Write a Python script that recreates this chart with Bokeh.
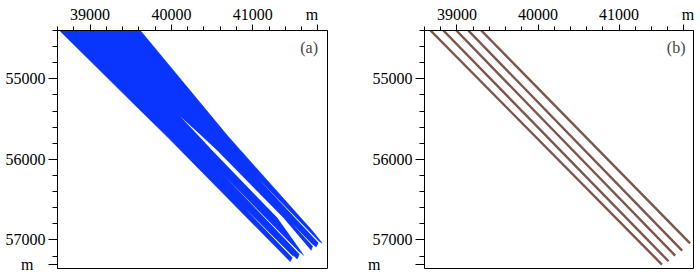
from bokeh.plotting import figure
from bokeh.layouts import row
from bokeh.models import Range1d, FixedTicker, Label
from bokeh.embed import file_html
from bokeh.resources import INLINE

NB = "\u00a0"

# ---- data (metres) ----
x_major = [39000, 40000, 41000]
x_minor = [38600, 38800, 39200, 39400, 39600, 39800, 40200, 40400, 40600, 40800,
           41200, 41400, 41600, 41800]
y_major = [55000, 56000, 57000]
y_minor = [54400, 54600, 54800, 55200, 55400, 55600, 55800, 56200, 56400, 56600,
           56800, 57200]
x_unit_pos = 41800   # "m" unit label along the top axis
y_unit_pos = 57300   # "m" unit label along the left axis

# panel (a): outer outline of the swept area
area_x = [38625, 39618, 40698, 41729, 41852, 41815, 41778, 41741, 41717,
          41631, 41582, 41545, 41502, 41459, 39946, 39557]
area_y = [54400, 54400, 55717, 56884, 57039, 57021, 57089, 57058, 57132,
          57195, 57157, 57238, 57195, 57269, 55717, 55332]
# main open gap between the left and right groups
gap_x = [40109, 40342, 40502, 41299, 41631, 41643, 41729, 41717, 41373, 40563, 40379]
gap_y = [55468, 55717, 55890, 56723, 57195, 57281, 57281, 57132, 56723, 55890, 55717]
# thin separations between the fingers
sep_x = [[40637, 41672, 41697], [40907, 41545, 41570],
         [41066, 41872, 41897], [41480, 41853, 41878]]
sep_y = [[56188, 57281, 57281], [56611, 57281, 57281],
         [56238, 57108, 57108], [56793, 57207, 57207]]

# panel (b): five trajectories
traj_x = [[38674, 41529],
          [38833, 41610],
          [38993, 41692],
          [39140, 41778],
          [39300, 41876]]
traj_y = [[54400, 57306],
          [54400, 57265],
          [54400, 57195],
          [54400, 57132],
          [54400, 57042]]

X_RANGE = (38600, 41918)
Y_RANGE = (57355, 54400)

FONT = "Liberation Serif"
FS = "16px"
BLUE = "#0a34ff"
BROWN = "#7d554b"


def make_fig(width, left, right, panel_label, lab_x, xm_text, ym_text):
    p = figure(width=width, height=272, x_range=Range1d(*X_RANGE), y_range=Range1d(*Y_RANGE),
               x_axis_location="above", output_backend="svg", toolbar_location=None,
               min_border_left=left, min_border_right=right, min_border_top=30,
               min_border_bottom=4)
    p.xgrid.visible = False
    p.ygrid.visible = False
    p.outline_line_color = "black"
    p.outline_line_width = 1
    p.background_fill_color = "white"
    p.border_fill_color = "white"
    p.xaxis.ticker = FixedTicker(ticks=x_major + [x_unit_pos], minor_ticks=x_minor)
    p.yaxis.ticker = FixedTicker(ticks=y_major + [y_unit_pos], minor_ticks=y_minor)
    p.xaxis.major_label_overrides = {x_unit_pos: xm_text}
    p.yaxis.major_label_overrides = {y_unit_pos: ym_text}
    for ax in (p.xaxis[0], p.yaxis[0]):
        ax.axis_line_color = "black"
        ax.major_tick_line_color = "black"
        ax.minor_tick_line_color = "black"
        ax.major_label_text_font = FONT
        ax.major_label_text_font_size = FS
        ax.major_label_text_color = "black"
        ax.major_tick_in = 0
        ax.minor_tick_in = 0
    p.xaxis.major_tick_out = 6
    p.xaxis.minor_tick_out = 4
    p.xaxis.major_label_standoff = 2
    p.yaxis.major_tick_out = 9
    p.yaxis.minor_tick_out = 5
    p.yaxis.major_label_standoff = 3
    p.add_layout(Label(x=lab_x, y=54607, text=panel_label, text_font=FONT, text_font_size=FS,
                       text_align="center", text_baseline="middle"))
    return p


pa = make_fig(350, 57, 23, "(a)", 41692, "m" + NB * 3, "m" + NB * 3)
pa.patch(area_x, area_y, fill_color=BLUE, line_color=BLUE, line_width=0.5)
pa.patch(gap_x, gap_y, fill_color="white", line_color=None)
pa.patches(sep_x, sep_y, fill_color="white", line_color=None)

pb = make_fig(350, 74, 7, "(b)", 41704, NB * 2 + "m", "m" + NB * 8)
pb.multi_line(traj_x, traj_y, line_color=BROWN, line_width=2.4)

layout = row(pa, pb)
open("out.html", "w").write(file_html(layout, INLINE))
